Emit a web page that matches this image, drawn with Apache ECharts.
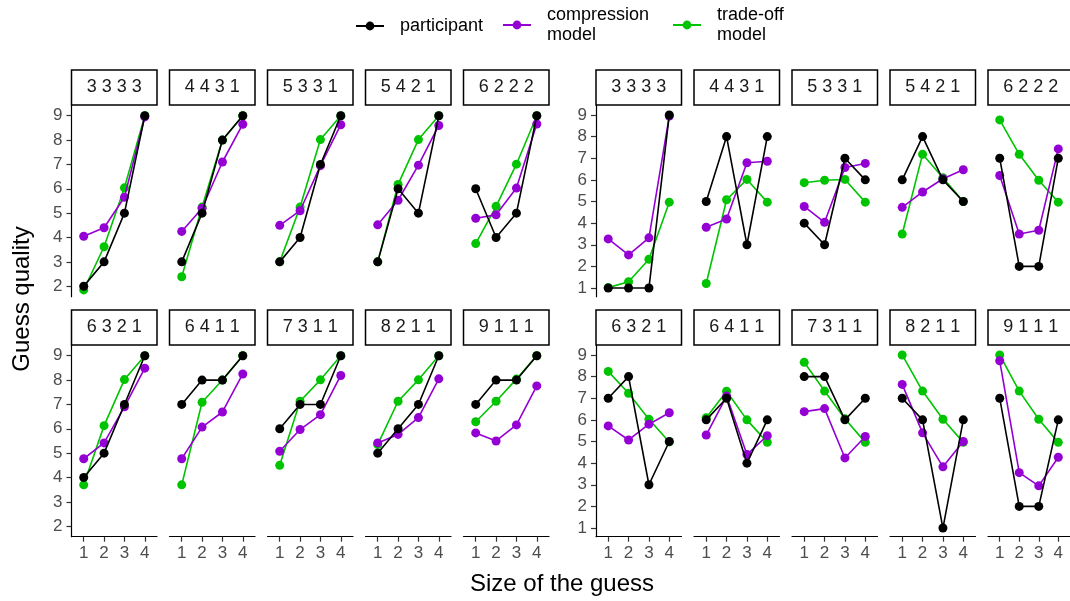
<!DOCTYPE html>
<html>
<head>
<meta charset="utf-8">
<script src="https://cdn.jsdelivr.net/npm/echarts@6/dist/echarts.min.js"></script>
<style>
  html, body { margin: 0; padding: 0; background: #fff; }
  #chart { width: 1070px; height: 601px; }
</style>
</head>
<body>
<div id="chart"></div>
<script>
// ---------- data ----------
const sizes = [1, 2, 3, 4];
const panelLabels = ['3 3 3 3', '4 4 3 1', '5 3 3 1', '5 4 2 1', '6 2 2 2',
                     '6 3 2 1', '6 4 1 1', '7 3 1 1', '8 2 1 1', '9 1 1 1'];
const leftYTicks = [2, 3, 4, 5, 6, 7, 8, 9];
const rightYTicks = [1, 2, 3, 4, 5, 6, 7, 8, 9];

const leftParticipant = [
  [2, 3, 5, 9], [3, 5, 8, 9], [3, 4, 7, 9], [3, 6, 5, 9], [6, 4, 5, 9],
  [4, 5, 7, 9], [7, 8, 8, 9], [6, 7, 7, 9], [5, 6, 7, 9], [7, 8, 8, 9]
];
const leftCompression = [
  [4.05, 4.4, 5.65, 8.95], [4.25, 5.2, 7.1, 8.65], [4.5, 5.1, 6.95, 8.63],
  [4.52, 5.53, 6.97, 8.6], [4.79, 4.93, 6.03, 8.66],
  [4.77, 5.42, 6.9, 8.49], [4.77, 6.07, 6.69, 8.25], [5.08, 5.97, 6.58, 8.19],
  [5.42, 5.77, 6.46, 8.05], [5.83, 5.5, 6.16, 7.76]
];
const leftTradeoff = [
  [1.85, 3.62, 6.04, 9], [2.39, 5.25, 8.0, 9], [3.0, 5.25, 8.02, 9],
  [3.0, 6.18, 8.02, 9], [3.75, 5.28, 7.01, 9],
  [3.7, 6.13, 8.02, 9], [3.7, 7.09, 8.0, 9], [4.5, 7.13, 8.01, 9],
  [5.35, 7.13, 8.01, 9], [6.29, 7.13, 8.04, 9]
];
const rightParticipant = [
  [1, 1, 1, 9], [5, 8, 3, 8], [4, 3, 7, 6], [6, 8, 6, 5], [7, 2, 2, 7],
  [7, 8, 3, 5], [6, 7, 4, 6], [8, 8, 6, 7], [7, 6, 1, 6], [7, 2, 2, 6]
];
const rightCompression = [
  [3.27, 2.53, 3.32, 8.95], [3.81, 4.19, 6.79, 6.86], [4.77, 4.04, 6.57, 6.76],
  [4.73, 5.44, 6.05, 6.47], [6.2, 3.5, 3.67, 7.43],
  [5.72, 5.07, 5.8, 6.33], [5.3, 7.1, 4.4, 5.27], [6.38, 6.52, 4.24, 5.23],
  [7.64, 5.4, 3.83, 5.0], [8.73, 3.56, 2.95, 4.27]
];
const rightTradeoff = [
  [1.02, 1.29, 2.33, 4.97], [1.21, 5.08, 6.02, 4.97], [5.87, 5.98, 6.02, 4.97],
  [3.5, 7.18, 6.1, 5.0], [8.77, 7.18, 5.98, 4.97],
  [8.24, 7.23, 6.03, 4.98], [6.1, 7.32, 6.0, 4.96], [8.66, 7.33, 6.05, 4.96],
  [9.0, 7.33, 6.03, 4.96], [9.0, 7.33, 6.03, 4.96]
];

// ---------- layout / style ----------
const FONT = '"Liberation Sans", Arial, sans-serif';
const COLORS = { participant: '#000000', compression: '#9400D3', tradeoff: '#00C400' };
const NAMES = { participant: 'participant', compression: 'compression\nmodel', tradeoff: 'trade-off\nmodel' };
const groups = [
  { left: 71.5, yMin: 1.57, yMax: 9.44, yTicks: leftYTicks,
    participant: leftParticipant, compression: leftCompression, tradeoff: leftTradeoff },
  { left: 596, yMin: 0.6, yMax: 9.46, yTicks: rightYTicks,
    participant: rightParticipant, compression: rightCompression, tradeoff: rightTradeoff }
];
const PW = 85.5, PITCH = 98, PH = 191.7, STRIP_H = 35;
const rowTops = [105, 345];

const grids = [], xAxes = [], yAxes = [], series = [], graphics = [];

groups.forEach((g, gi) => {
  for (let p = 0; p < 10; p++) {
    const r = Math.floor(p / 5), c = p % 5;
    const idx = gi * 10 + p;
    const left = g.left + c * PITCH, top = rowTops[r];
    grids.push({ left: left, top: top, width: PW, height: PH, containLabel: false });
    xAxes.push({
      gridIndex: idx, type: 'value', min: 0.4, max: 4.6,
      show: r === 1,
      axisLine: { show: true, lineStyle: { color: '#000', width: 1.2 } },
      axisTick: { show: true, customValues: sizes, length: 5, lineStyle: { color: '#333', width: 1.2 } },
      axisLabel: { show: true, customValues: sizes, fontSize: 17, color: '#4D4D4D', fontFamily: FONT, margin: 8 },
      splitLine: { show: false }
    });
    yAxes.push({
      gridIndex: idx, type: 'value', min: g.yMin, max: g.yMax,
      show: c === 0,
      axisLine: { show: true, lineStyle: { color: '#000', width: 1.2 } },
      axisTick: { show: true, customValues: g.yTicks, length: 5, lineStyle: { color: '#333', width: 1.2 } },
      axisLabel: { show: true, customValues: g.yTicks, fontSize: 17, color: '#4D4D4D', fontFamily: FONT, margin: 9 },
      splitLine: { show: false }
    });
    ['tradeoff', 'compression', 'participant'].forEach((key, k) => {
      series.push({
        type: 'line', name: NAMES[key], xAxisIndex: idx, yAxisIndex: idx,
        data: sizes.map((s, i) => [s, g[key][p][i]]),
        symbol: 'circle', symbolSize: 9, showSymbol: true,
        lineStyle: { color: COLORS[key], width: 1.6 },
        itemStyle: { color: COLORS[key] },
        z: 2 + k, silent: true, animation: false,
        emphasis: { disabled: true }
      });
    });
    // facet strip
    graphics.push({
      type: 'rect', silent: true,
      shape: { x: left, y: top - STRIP_H, width: PW, height: STRIP_H },
      style: { fill: '#fff', stroke: '#000', lineWidth: 1.5 }
    });
    graphics.push({
      type: 'text', silent: true,
      x: left + PW / 2, y: top - STRIP_H / 2,
      style: { text: panelLabels[p], fill: '#1A1A1A', font: '18px ' + FONT,
               textAlign: 'center', textVerticalAlign: 'middle' }
    });
  }
});

graphics.push({
  type: 'text', silent: true, x: 22, y: 299, rotation: Math.PI / 2,
  style: { text: 'Guess quality', fill: '#000', font: '24px ' + FONT,
           textAlign: 'center', textVerticalAlign: 'middle' }
});
graphics.push({
  type: 'text', silent: true, x: 562, y: 584,
  style: { text: 'Size of the guess', fill: '#000', font: '24px ' + FONT,
           textAlign: 'center', textVerticalAlign: 'middle' }
});

function legendFor(key, left, top) {
  return {
    show: true, data: [NAMES[key]], left: left, top: top, padding: 0,
    itemWidth: 28, itemHeight: 11, selectedMode: false,
    textStyle: { fontSize: 18, fontFamily: FONT, color: '#000', lineHeight: 20, padding: [0, 0, 0, 11] }
  };
}

const chart = echarts.init(document.getElementById('chart'), null, { renderer: 'canvas' });
chart.setOption({
  animation: false,
  backgroundColor: '#fff',
  legend: [
    legendFor('participant', 355, 16),
    legendFor('compression', 502, 5),
    legendFor('tradeoff', 672, 5)
  ],
  grid: grids,
  xAxis: xAxes,
  yAxis: yAxes,
  series: series,
  graphic: graphics
});
</script>
</body>
</html>
